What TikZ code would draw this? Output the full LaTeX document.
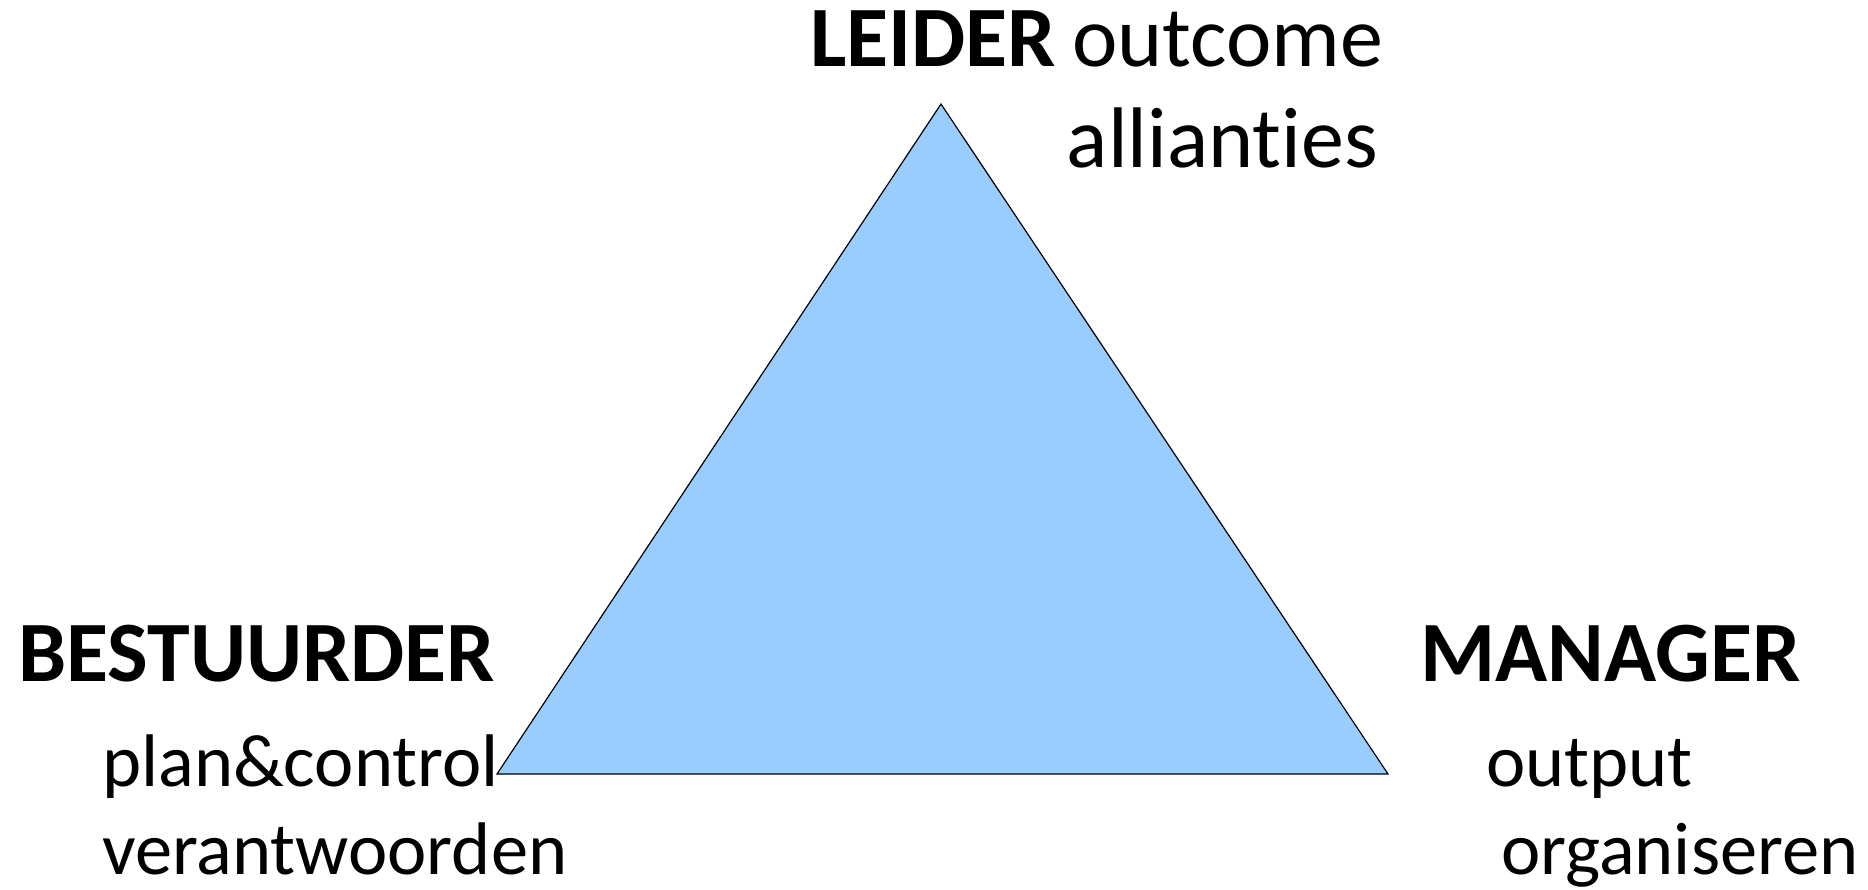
\documentclass[tikz,border=0pt]{standalone}
\usepackage{fontspec}
\setmainfont{Carlito}[Ligatures=NoCommon]
\usetikzlibrary{positioning}
\definecolor{triblue}{HTML}{99CCFF}
\tikzstyle{role} = [inner sep=0pt, anchor=base west, font=\fontsize{86}{103}\selectfont\bfseries]
\tikzstyle{task} = [inner sep=0pt, anchor=base west, font=\fontsize{74.5}{89}\selectfont]
\tikzstyle{toptask} = [inner sep=0pt, anchor=base west, font=\fontsize{86}{103}\selectfont]

\begin{document}
\begin{tikzpicture}[x=1pt, y=-1pt]
    \useasboundingbox (0,0) rectangle (1868,889);

    % triangle
    \coordinate (top) at (941,104);
    \coordinate (left) at (497,774);
    \coordinate (right) at (1388,774);
    \draw [fill=triblue, line width=1.2pt, line join=miter] (top) -- (left) -- (right) -- cycle;

    \node (leider) [role] at (810,66) {LEIDER};
    \node (outcome) [toptask] at (1072,66) {outcome};
    \node (allianties) [toptask, anchor=base east] at (1378,167) {allianties};

    \node (bestuurder) [role] at (18,681) {BESTUURDER};
    \node (plan) [task] at (102,786) {plan\&control};
    \node (verant) [task] at (102,874) {verantwoorden};

    \node (manager) [role] at (1420,681) {MANAGER};
    \node (output) [task] at (1486,786) {output};
    \node (organ) [task] at (1501,874) {organiseren};

\end{tikzpicture}
\end{document}
